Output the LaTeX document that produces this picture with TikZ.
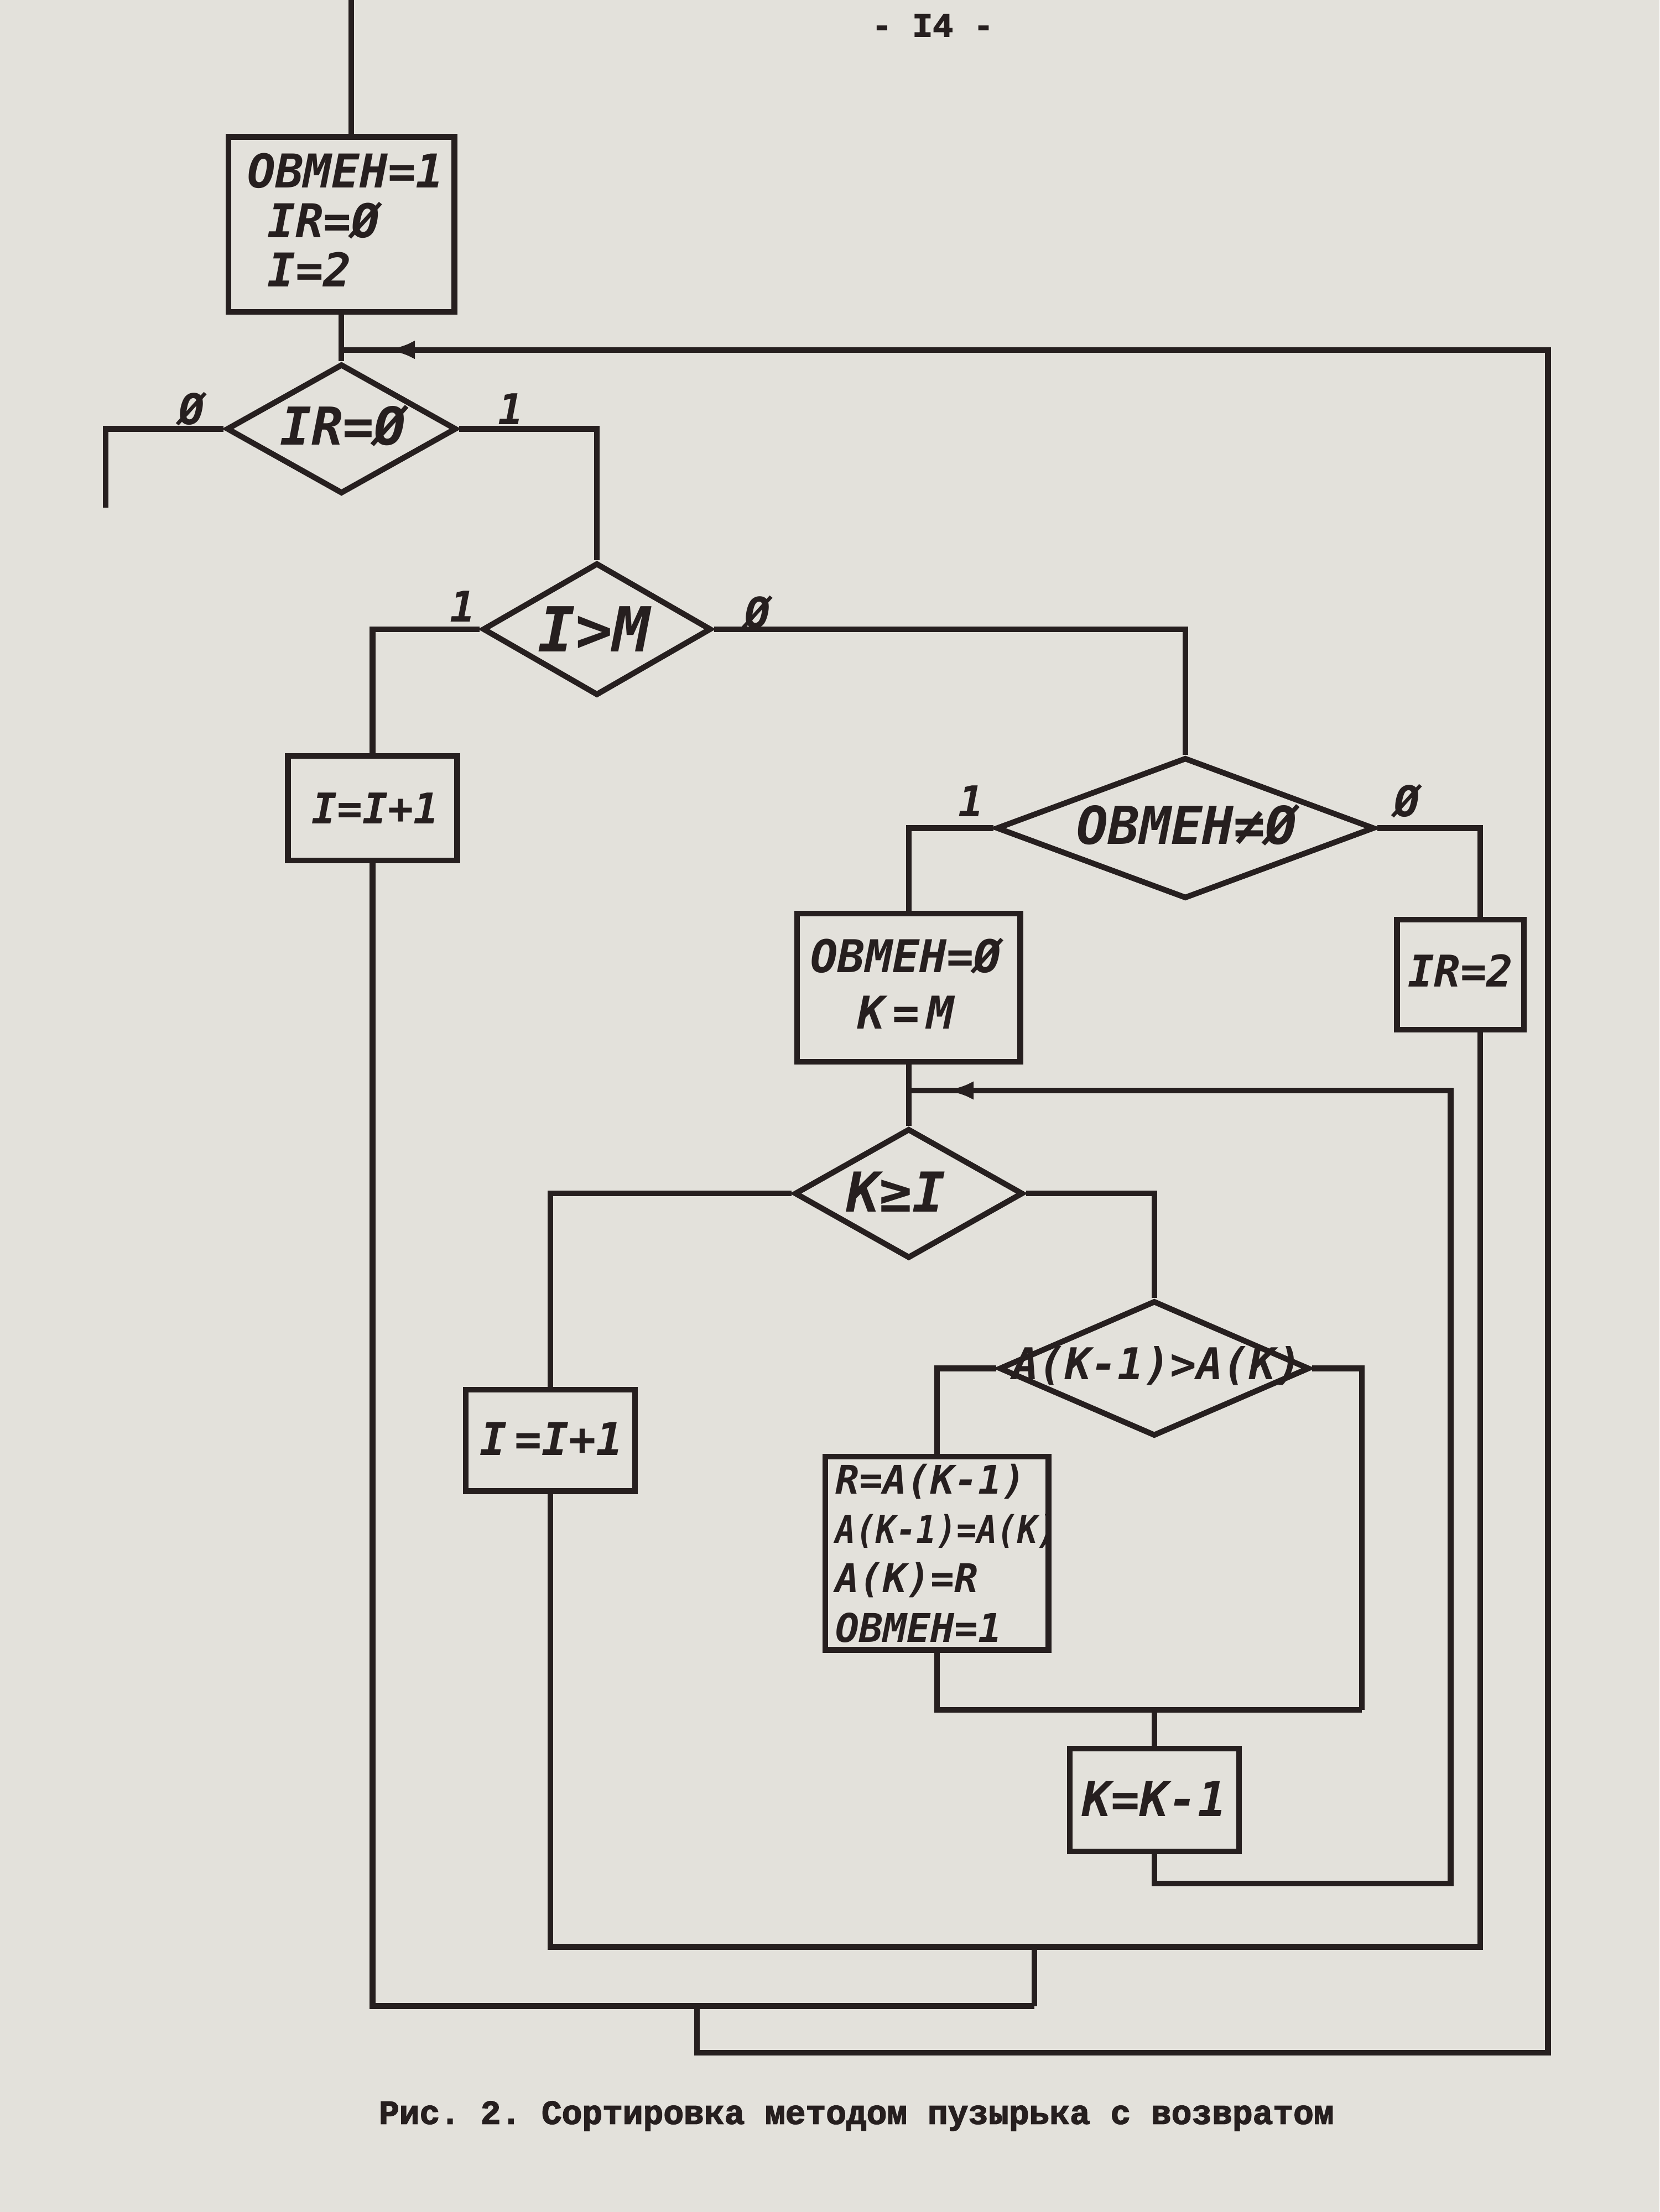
\documentclass[tikz,border=0pt]{standalone}
\usepackage{fontspec}
\usepackage{graphicx}
\usetikzlibrary{shapes.geometric,arrows.meta,decorations.markings}
\newfontfamily\handfam{DejaVu Sans Mono}
\newfontfamily\typefam[BoldFeatures={FakeBold=2.5}]{Liberation Mono}
\newcommand\handf[2]{\handfam\bfseries\itshape\fontsize{#1}{#2}\selectfont}
\definecolor{paper}{RGB}{227,225,219}
\definecolor{ink}{RGB}{38,31,31}
\frenchspacing
\begin{document}
\begin{tikzpicture}[x=1pt,y=-1pt,
  box/.style={draw=ink, line width=4pt, rectangle, inner sep=0pt},
  dec/.style={draw=ink, line width=4pt, diamond, inner sep=0pt},
  txt/.style={inner sep=0pt, text=ink},
  wire/.style={draw=ink, line width=4pt, line join=miter},
  retarrow/.style={postaction={decorate}, decoration={markings, mark=at position #1 with {\arrow[ink]{Latex[length=20pt,width=13pt]}}}}
]
\path[use as bounding box, fill=paper] (0,0) rectangle (1176,1568);

% page number
\node[txt, font=\typefam\bfseries\fontsize{24}{24}\selectfont] (pg) at (661,18) {- I4 -};

% nodes
\node[box, minimum width=160, minimum height=124] (b1) at (242,159) {};
\node[txt, align=left, font=\handf{33}{35}] (b1t) at (245,156) {OBMEH=1\\\hspace*{14pt}IR=Ø\\\hspace*{14pt}I=2};

\node[dec, minimum width=163, minimum height=92] (d1) at (242,304) {};
\node[txt, font=\handf{37}{37}] (d1t) at (243,302) {IR=Ø};

\node[dec, minimum width=162, minimum height=94] (d2) at (423,446) {};
\node[txt, font=\handf{44}{44}] (d2t) at (421,446) {I>M};

\node[box, minimum width=120, minimum height=74] (ia) at (264,573) {};
\node[txt, font=\handf{30}{30}] (iat) at (266,573) {I=I+1};

\node[dec, minimum width=268, minimum height=100] (d3) at (840,587) {};
\node[txt, font=\handf{37}{37}] (d3t) at (841,585) {OBMEH≠Ø};

\node[box, minimum width=158, minimum height=105] (bk) at (644,700) {};
\node[txt, align=center, font=\handf{32}{40}] (bkt) at (642,697) {OBMEH=Ø\\K\,=\,M};

\node[box, minimum width=90, minimum height=78] (ir) at (1035,691) {};
\node[txt, font=\handf{31}{31}] (irt) at (1035,688) {IR=2};

\node[dec, minimum width=162, minimum height=92] (d4) at (644,846) {};
\node[txt, font=\handf{39}{39}] (d4t) at (635,845) {K≥I};

\node[box, minimum width=120, minimum height=72] (ib) at (390,1021) {};
\node[txt, font=\handf{32}{32}] (ibt) at (391,1020) {I\,=I+1};

\node[dec, minimum width=220, minimum height=96] (d5) at (818,970) {};
\node[txt, font=\handf{31}{31}] (d5t) at (820,968) {A(K-1)>A(K)};

\node[box, minimum width=158, minimum height=137] (sw) at (664,1101) {};
\node[txt, align=left, anchor=west, font=\handf{28}{35}] (swt) at (592,1101) {R=A(K-1)\\\scalebox{0.88}[1]{\handf{27}{35}A(K-1)=A(K)}\\A(K)=R\\OBMEH=1};

\node[box, minimum width=120, minimum height=73] (kk) at (818,1276) {};
\node[txt, font=\handf{34}{34}] (kkt) at (818,1275) {K=K-1};

% branch labels
\node[txt, font=\handf{30}{30}] (l1) at (136,290) {Ø};
\node[txt, font=\handf{30}{30}] (l2) at (362,290) {1};
\node[txt, font=\handf{30}{30}] (l3) at (328,430) {1};
\node[txt, font=\handf{30}{30}] (l4) at (537,434) {Ø};
\node[txt, font=\handf{30}{30}] (l5) at (688,568) {1};
\node[txt, font=\handf{30}{30}] (l6) at (997,568) {Ø};

% coordinates
\coordinate (top) at (249,0);
\coordinate (jA) at (242,248);
\coordinate (exitL) at (75,360);
\coordinate (jB) at (644,773);
\coordinate (irTop) at (1049,652);
\coordinate (irBot) at (1049,730);
\coordinate (m1) at (664,1212);
\coordinate (m2) at (965,1212);
\coordinate (m3) at (818,1212);
\coordinate (q1) at (818,1335);
\coordinate (q2) at (1028,1335);
\coordinate (q3) at (1028,773);
\coordinate (p1) at (390,1380);
\coordinate (p2) at (1049,1380);
\coordinate (p3) at (733,1380);
\coordinate (p4) at (733,1422);
\coordinate (p5) at (264,1422);
\coordinate (p6) at (494,1422);
\coordinate (p7) at (494,1455);
\coordinate (p8) at (1097,1455);
\coordinate (p9) at (1097,248);

% connectors
\draw[wire] (top) -- (top |- b1.north);
\draw[wire] (b1.south) -- (d1.north);
\draw[wire] (d1.west) -| (exitL);
\draw[wire] (d1.east) -| (d2.north);
\draw[wire] (d2.west) -| (ia.north);
\draw[wire] (d2.east) -| (d3.north);
\draw[wire] (d3.west) -| (bk.north);
\draw[wire] (d3.east) -| (irTop);
\draw[wire] (bk.south) -- (d4.north);
\draw[wire] (d4.west) -| (ib.north);
\draw[wire] (d4.east) -| (d5.north);
\draw[wire] (d5.west) -| (sw.north);
\draw[wire] (d5.east) -| (m2);
\draw[wire] (sw.south) -- (m1) -- (m2);
\draw[wire] (m3) -- (kk.north);
\draw[wire, retarrow=-26pt] (kk.south) -- (q1) -- (q2) -- (q3) -- (jB);
\draw[wire] (ib.south) -- (p1) -- (p2) -- (irBot);
\draw[wire] (p3) -- (p4);
\draw[wire] (ia.south) -- (p5) -- (p4);
\draw[wire, retarrow=-32pt] (p6) -- (p7) -- (p8) -- (p9) -- (jA);

% caption
\node[txt, font=\typefam\bfseries\fontsize{24}{24}\selectfont] (cap) at (607,1500) {Рис. 2. Сортировка методом пузырька с возвратом};
\end{tikzpicture}
\end{document}
